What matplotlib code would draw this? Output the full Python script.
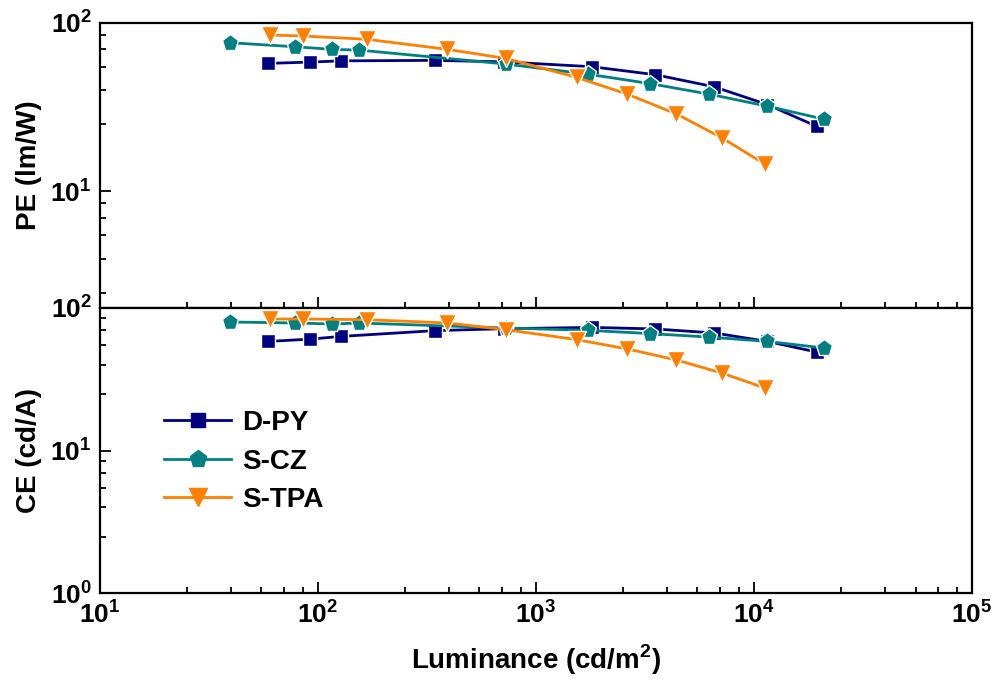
import numpy as np
import matplotlib
matplotlib.use('Agg')
import matplotlib.pyplot as plt
from matplotlib.ticker import FixedLocator, FuncFormatter, NullFormatter

plt.rcParams['font.family'] = 'Liberation Sans'
plt.rcParams['font.weight'] = 'bold'
plt.rcParams['mathtext.fontset'] = 'custom'
plt.rcParams['mathtext.bf'] = 'Liberation Sans:bold'
plt.rcParams['mathtext.rm'] = 'Liberation Sans:bold'

# luminance (cd/m2)
lum_dpy = [59.2, 91.9, 127, 344, 716, 1811, 3516, 6561, 11510, 19400]
lum_scz = [39.5, 78.3, 116.4, 154.5, 726, 1738, 3318, 6237, 11510, 20940]
lum_stpa = [60.3, 85.1, 168, 392, 726, 1538, 2625, 4404, 7112, 11220]

# power efficiency (lm/W)
pe_dpy = [57.4, 58.4, 59.4, 59.8, 58.6, 54.8, 49.2, 41.7, 32.7, 24.3]
pe_scz = [76.1, 72.0, 69.5, 68.8, 56.9, 49.5, 43.6, 37.7, 32.0, 26.8]
pe_stpa = [84.5, 83.4, 79.7, 69.5, 61.4, 47.4, 37.7, 28.8, 20.8, 14.5]

# current efficiency (cd/A)
ce_dpy = [58.3, 60.5, 63.2, 69.4, 71.6, 73.1, 71.3, 66.8, 58.3, 49.1]
ce_scz = [79.8, 78.5, 77.2, 78.5, 72.4, 69.7, 66.2, 62.5, 58.3, 52.4]
ce_stpa = [83.7, 83.7, 82.8, 78.5, 70.5, 60.0, 51.6, 43.2, 35.0, 27.5]

names = ['D-PY', 'S-CZ', 'S-TPA']
colors = ['#000080', '#008080', '#FF8000']
markers = ['s', 'p', 'v']
sizes = [10.5, 12.5, 12.5]

lums = [lum_dpy, lum_scz, lum_stpa]
pes = [pe_dpy, pe_scz, pe_stpa]
ces = [ce_dpy, ce_scz, ce_stpa]

fig, (ax1, ax2) = plt.subplots(2, 1, sharex=True, figsize=(9.94, 6.79), dpi=100)
fig.subplots_adjust(left=0.1006, right=0.978, top=0.9666, bottom=0.1262, hspace=0)

for i in range(3):
    ax1.plot(lums[i], pes[i], color=colors[i], marker=markers[i], ms=sizes[i],
             mec='white', mew=1.0, lw=2, label=names[i])
    ax2.plot(lums[i], ces[i], color=colors[i], marker=markers[i], ms=sizes[i],
             mec='white', mew=1.0, lw=2, label=names[i])

def minor_ticks(lo, hi):
    out = []
    for e in range(lo, hi):
        for m in [2.5, 4, 5.5, 7, 8.5]:
            out.append(m * 10 ** e)
    return out

fmt = FuncFormatter(lambda v, p: r'$\mathbf{10^{%d}}$' % round(np.log10(v)))

for ax in (ax1, ax2):
    ax.set_xscale('log')
    ax.set_yscale('log')
    ax.set_xlim(10, 1e5)
    ax.xaxis.set_major_locator(FixedLocator([10, 100, 1000, 1e4, 1e5]))
    ax.xaxis.set_minor_locator(FixedLocator(minor_ticks(1, 5)))
    ax.xaxis.set_major_formatter(fmt)
    ax.xaxis.set_minor_formatter(NullFormatter())
    ax.yaxis.set_minor_locator(FixedLocator(minor_ticks(-1, 3)))
    ax.yaxis.set_major_formatter(fmt)
    ax.yaxis.set_minor_formatter(NullFormatter())
    ax.tick_params(which='both', direction='in', top=False, right=False, width=1.3)
    ax.tick_params(which='major', length=8, labelsize=19, pad=6)
    ax.tick_params(which='minor', length=4)
    for s in ax.spines.values():
        s.set_linewidth(1.6)

ax1.set_ylim(2.04, 100)
ax1.yaxis.set_major_locator(FixedLocator([10, 100]))
ax2.set_ylim(1, 100)
ax2.yaxis.set_major_locator(FixedLocator([1, 10, 100]))

ax1.set_ylabel('PE (lm/W)', fontsize=20, fontweight='bold')
ax2.set_ylabel('CE (cd/A)', fontsize=20, fontweight='bold')
ax1.yaxis.set_label_coords(-0.066, 0.5)
ax2.yaxis.set_label_coords(-0.066, 0.5)
ax2.set_xlabel(r'Luminance (cd/m$^\mathbf{2}$)', fontsize=20, fontweight='bold', labelpad=10)

leg = ax2.legend(loc='upper left', bbox_to_anchor=(0.045, 0.73), frameon=False,
                 fontsize=20, handlelength=2.4, handletextpad=0.4, labelspacing=0.45)
for h in leg.legend_handles:
    h.set_markeredgecolor(h.get_color())

plt.savefig('out.png', dpi=100)
